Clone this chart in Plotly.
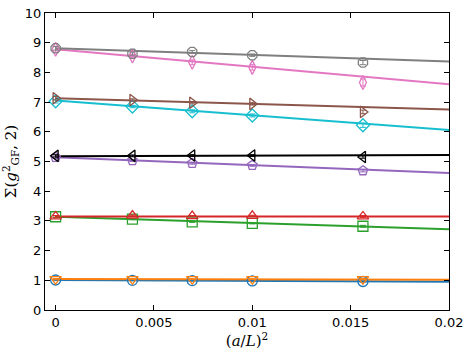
import plotly.graph_objects as go

# (a/L)^2 for L = inf (continuum), 16, 12, 10, 8
x_vals = [0.0, 1 / 256, 1 / 144, 1 / 100, 1 / 64]
x_fit = [0.0, 0.02]

names = ['s1', 's2', 's3', 's4', 's5', 's6', 's7', 's8', 's9', 's10']
colors = ['#1f77b4', '#ff7f0e', '#2ca02c', '#d62728', '#9467bd',
          '#000000', '#17becf', '#8c564b', '#e377c2', '#7f7f7f']
symbols = ['circle-open', 'triangle-down-open', 'square-open', 'triangle-up-open',
           'pentagon-open', 'triangle-left-open', 'diamond-open',
           'triangle-right-open', 'diamond-tall-open', 'octagon-open']

values = [
    [1.01, 1.00, 0.99, 0.98, 0.96],
    [1.04, 1.04, 1.04, 1.04, 1.04],
    [3.14, 3.06, 2.97, 2.92, 2.82],
    [3.15, 3.18, 3.16, 3.17, 3.15],
    [5.14, 5.03, 4.94, 4.87, 4.69],
    [5.19, 5.19, 5.20, 5.20, 5.15],
    [7.03, 6.85, 6.69, 6.55, 6.22],
    [7.13, 7.07, 6.98, 6.94, 6.67],
    [8.78, 8.55, 8.34, 8.17, 7.66],
    [8.81, 8.63, 8.69, 8.58, 8.33],
]
errors = [
    [0.02, 0.01, 0.01, 0.01, 0.02],
    [0.02, 0.01, 0.01, 0.01, 0.02],
    [0.03, 0.02, 0.02, 0.02, 0.03],
    [0.03, 0.02, 0.02, 0.02, 0.03],
    [0.04, 0.03, 0.03, 0.03, 0.04],
    [0.04, 0.03, 0.03, 0.03, 0.04],
    [0.06, 0.04, 0.05, 0.05, 0.07],
    [0.06, 0.04, 0.04, 0.04, 0.06],
    [0.10, 0.06, 0.08, 0.09, 0.12],
    [0.06, 0.05, 0.05, 0.04, 0.07],
]
fit_ends = [
    [1.01, 0.95],
    [1.04, 1.02],
    [3.14, 2.72],
    [3.15, 3.15],
    [5.14, 4.61],
    [5.18, 5.22],
    [7.05, 6.06],
    [7.13, 6.75],
    [8.78, 7.60],
    [8.81, 8.37],
]

fig = go.Figure()

# fit lines first, markers on top
for name, col, fit in zip(names, colors, fit_ends):
    fig.add_trace(go.Scatter(
        x=x_fit, y=fit, mode='lines',
        line=dict(color=col, width=2),
        showlegend=False, hoverinfo='skip',
    ))

for name, col, sym, ys, err in zip(names, colors, symbols, values, errors):
    fig.add_trace(go.Scatter(
        x=x_vals, y=ys, mode='markers', name=name,
        marker=dict(symbol=sym, size=10, color=col, line=dict(color=col, width=1.3)),
        error_y=dict(type='data', array=err, color=col, thickness=1, width=3),
        showlegend=False,
    ))

axis_common = dict(
    showline=True, linecolor='black', linewidth=1, mirror='ticks',
    ticks='inside', ticklen=5, tickcolor='black',
    showgrid=False, zeroline=False, ticklabeloverflow='allow',
    tickfont=dict(family='DejaVu Sans', size=13, color='black'),
)

fig.update_layout(
    width=469, height=352,
    margin=dict(l=45, r=16, t=6, b=41),
    plot_bgcolor='white', paper_bgcolor='white',
    xaxis=dict(
        range=[-0.00054, 0.02],
        tickvals=[0, 0.005, 0.01, 0.015, 0.02],
        ticktext=['0', '0.005', '0.01', '0.015', '0.02'],
        title=dict(text='(<i>a</i>/<i>L</i>)<sup>2</sup>', standoff=6,
                   font=dict(family='DejaVu Serif', size=15, color='black')),
        **axis_common,
    ),
    yaxis=dict(
        range=[0, 10], dtick=1,
        title=dict(text='Σ(<i>g</i><sup>2</sup><sub>GF</sub>, 2)', standoff=6,
                   font=dict(family='DejaVu Serif', size=15, color='black')),
        **axis_common,
    ),
)

# drop the default page margin so the figure sits at the window's corner
fig.write_html("out.html", config={'displayModeBar': False},
               post_script="document.body.style.margin='0';")
